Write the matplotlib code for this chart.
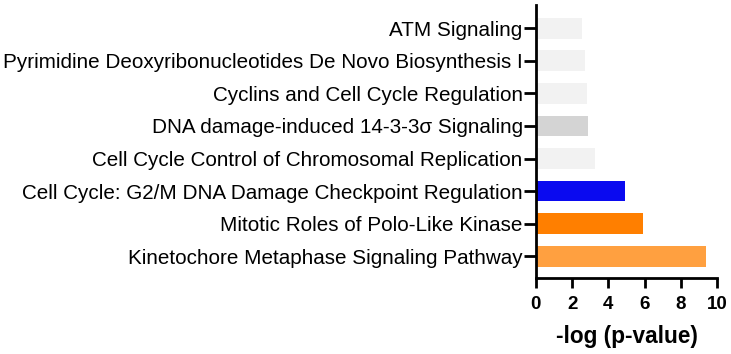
import matplotlib
matplotlib.use("Agg")
import matplotlib.pyplot as plt

plt.rcParams['font.family'] = ['Liberation Sans', 'DejaVu Sans']

pathways = [
    "ATM Signaling",
    "Pyrimidine Deoxyribonucleotides De Novo Biosynthesis I",
    "Cyclins and Cell Cycle Regulation",
    "DNA damage-induced 14-3-3σ Signaling",
    "Cell Cycle Control of Chromosomal Replication",
    "Cell Cycle: G2/M DNA Damage Checkpoint Regulation",
    "Mitotic Roles of Polo-Like Kinase",
    "Kinetochore Metaphase Signaling Pathway",
]
neg_log_p = [2.56, 2.71, 2.80, 2.86, 3.26, 4.90, 5.93, 9.37]
colors = ["#f2f2f2", "#f2f2f2", "#f2f2f2", "#d4d4d4", "#f2f2f2",
          "#0a0af0", "#ff7f00", "#ffa040"]

fig = plt.figure(figsize=(7.31, 3.54), dpi=100)
ax = fig.add_axes([0.733, 0.215, 0.248, 0.771])

ypos = list(range(len(pathways)))
ax.barh(ypos, neg_log_p, height=0.64, color=colors, edgecolor='none')
ax.set_yticks(ypos)
ax.set_yticklabels(pathways, fontsize=14.85)
ax.set_ylim(7.67, -0.72)
ax.set_xlim(0, 10)
ax.set_xticks(range(0, 11, 2))
for lab in ax.get_xticklabels():
    lab.set_fontweight('bold')
    lab.set_fontsize(13.5)
ax.set_xlabel("-log (p-value)", fontsize=16.3, fontweight='bold', labelpad=9)

for s in ['top', 'right']:
    ax.spines[s].set_visible(False)
for s in ['left', 'bottom']:
    ax.spines[s].set_linewidth(2)
ax.tick_params(axis='y', width=2, length=8.5, pad=1)
ax.tick_params(axis='x', width=2, length=7, pad=6)

fig.savefig("out.png", dpi=100)
